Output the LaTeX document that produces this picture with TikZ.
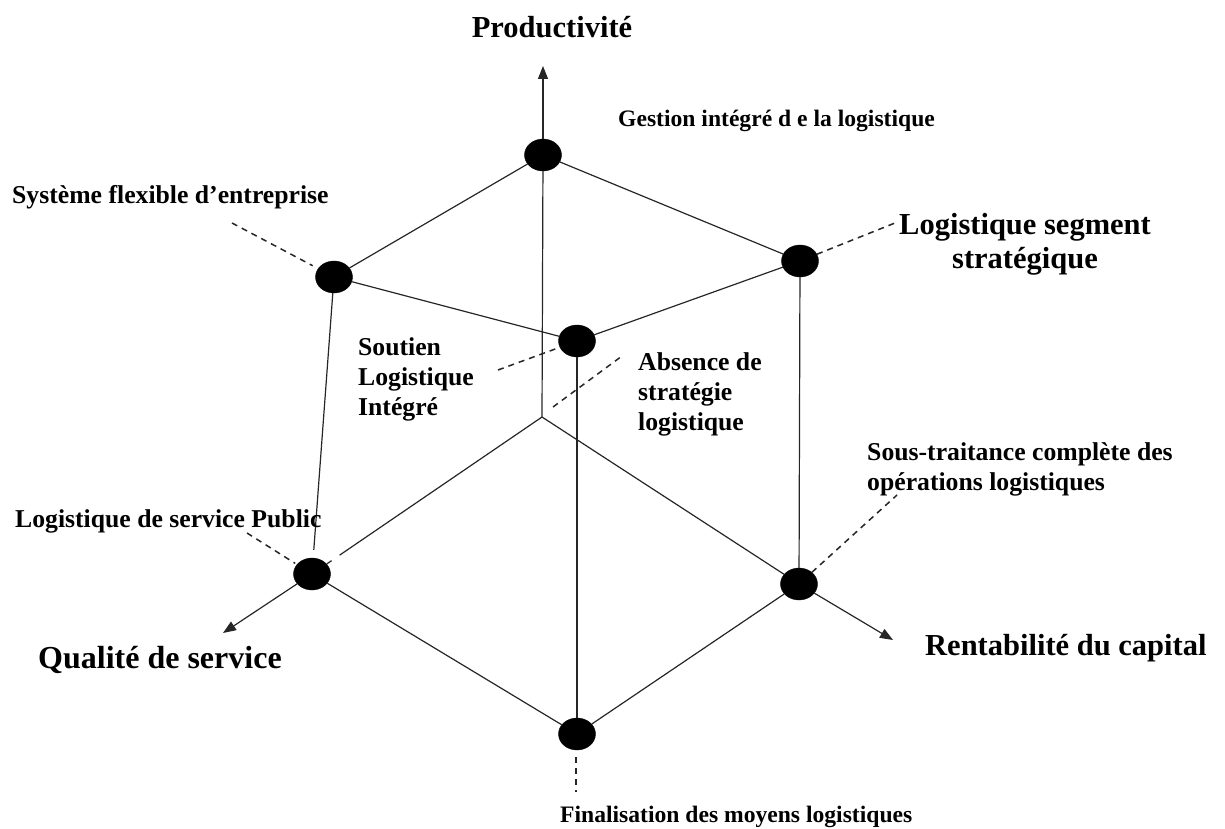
\documentclass[tikz,border=0pt]{standalone}
\usepackage{fontspec}
\setmainfont{Liberation Serif}
\usetikzlibrary{arrows.meta,shapes.geometric,calc}
\begin{document}
\begin{tikzpicture}[x=1pt,y=-1pt,
  dot/.style={ellipse,fill=black,draw=black,minimum width=37pt,minimum height=32pt,inner sep=0pt},
  edge/.style={line width=1.2pt,draw=black!85},
  axis/.style={edge,-{Triangle[length=13pt,width=10pt]}},
  lead/.style={line width=1.5pt,dash pattern=on 6pt off 5pt,draw=black!85},
  big/.style={font=\fontsize{30.5}{34}\selectfont\bfseries,inner sep=0pt},
  small/.style={font=\fontsize{25.7}{30}\selectfont\bfseries,inner sep=0pt,align=left},
  smaller/.style={small,font=\fontsize{23.6}{29}\selectfont\bfseries}]
\useasboundingbox (0,0) rectangle (1225,829);

% the seven states of the logistics cube
\node[dot] (top) at (543,155) {};
\node[dot] (ul) at (334,277) {};
\node[dot] (ur) at (800,261) {};
\node[dot] (mid) at (577,341) {};
\node[dot] (ll) at (312,574) {};
\node[dot] (lr) at (799,584) {};
\node[dot] (bot) at (577,734) {};
\coordinate (o) at (542,417);

% axis ends
\coordinate (pTop) at (543,66);
\coordinate (pQual) at (223,633);
\coordinate (pRent) at (893,640);

% axes
\draw[edge] (o) -- (top);
\draw[axis] (top) -- (pTop);
\draw[edge] (o) -- ($(o)!.88!(ll)$);
\draw[edge] ($(o)!.915!(ll)$) -- (ll);
\draw[axis] (ll) -- (pQual);
\draw[edge] (o) -- (lr);
\draw[axis] (lr) -- (pRent);

% cube edges
\draw[edge] (top) -- (ul);
\draw[edge] (top) -- (ur);
\draw[edge] (ul) -- (mid);
\draw[edge] (mid) -- (ur);
\draw[edge,shorten >=8pt] (ul) -- (ll);
\draw[edge] (ur) -- (lr);
\draw[edge] (mid) -- (bot);
\draw[edge] (ll) -- (bot);
\draw[edge] (lr) -- (bot);

% leader ends
\coordinate (aSys) at (232,223);
\coordinate (aSeg) at (895,223);
\coordinate (aSou) at (498,370);
\coordinate (aAbs1) at (553,407);
\coordinate (aAbs2) at (622,356);
\coordinate (aSst) at (897,495);
\coordinate (aPub) at (247,533);
\coordinate (aFin1) at (576,757);
\coordinate (aFin2) at (576,792);

% dashed leaders
\draw[lead,shorten >=6pt] (aSys) -- (ul);
\draw[lead] (ur) -- (aSeg);
\draw[lead] (aSou) -- (mid);
\draw[lead] (aAbs1) -- (aAbs2);
\draw[lead] (lr) -- (aSst);
\draw[lead,shorten >=2pt] (aPub) -- (ll);
\draw[lead] (aFin1) -- (aFin2);

% labels (for multi-line labels the base anchor is the last line)
\node[big,anchor=base] (tProd) at (552,38) {Productivité};
\node[big,anchor=base west,font=\fontsize{32}{36}\selectfont\bfseries] (tQual) at (38,668) {Qualité de service};
\node[big,anchor=base west] (tRent) at (925,655) {Rentabilité du capital};
\node[big,anchor=base,align=center] (tSeg) at (1025,268) {Logistique segment\\stratégique};
\node[smaller,anchor=base west] (tGest) at (618,127) {Gestion intégré d e la logistique};
\node[small,anchor=base west] (tSys) at (12,204) {Système flexible d’entreprise};
\node[small,anchor=base west] (tSou) at (358,415) {Soutien\\Logistique\\Intégré};
\node[small,anchor=base west] (tAbs) at (638,430) {Absence de\\stratégie\\logistique};
\node[small,anchor=base west] (tSst) at (867,490) {Sous-traitance complète des\\opérations logistiques};
\node[small,anchor=base west] (tPub) at (15,527) {Logistique de service Public};
\node[smaller,anchor=base west] (tFin) at (560,822) {Finalisation des moyens logistiques};
\end{tikzpicture}
\end{document}
